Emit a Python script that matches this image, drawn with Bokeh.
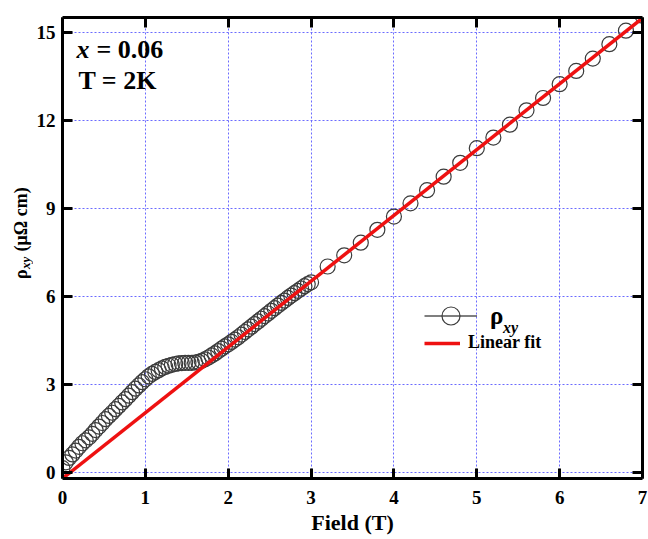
import math
from bokeh.plotting import figure
from bokeh.layouts import row
from bokeh.models import (Range1d, LinearAxis, FixedTicker, CustomJSTickFormatter,
                          Label, Legend, LegendItem, ColumnDataSource)
from bokeh.embed import file_html
from bokeh.resources import INLINE

# ---- data ----
field_low = [0.00, 0.04, 0.08, 0.12, 0.16, 0.20, 0.24, 0.28, 0.32, 0.36,
             0.40, 0.44, 0.48, 0.52, 0.56, 0.60, 0.64, 0.68, 0.72, 0.76,
             0.80, 0.84, 0.88, 0.92, 0.96, 1.00, 1.04, 1.08, 1.12, 1.16,
             1.20, 1.24, 1.28, 1.32, 1.36, 1.40, 1.44, 1.48, 1.52, 1.56,
             1.60, 1.64, 1.68, 1.72, 1.76, 1.80, 1.84, 1.88, 1.92, 1.96,
             2.00, 2.04, 2.08, 2.12, 2.16, 2.20, 2.24, 2.28, 2.32, 2.36,
             2.40, 2.44, 2.48, 2.52, 2.56, 2.60, 2.64, 2.68, 2.72, 2.76,
             2.80, 2.84, 2.88, 2.92, 2.96, 3.00]
rho_low = [0.15, 0.35, 0.50, 0.62, 0.75, 0.88, 1.00, 1.10, 1.20, 1.32,
           1.45, 1.57, 1.69, 1.82, 1.93, 2.04, 2.16, 2.27, 2.39, 2.50,
           2.62, 2.74, 2.86, 2.97, 3.08, 3.18, 3.28, 3.36, 3.43, 3.49,
           3.55, 3.60, 3.64, 3.67, 3.70, 3.72, 3.73, 3.74, 3.74, 3.74,
           3.75, 3.77, 3.81, 3.86, 3.92, 3.99, 4.06, 4.14, 4.22, 4.30,
           4.37, 4.45, 4.53, 4.61, 4.70, 4.79, 4.88, 4.97, 5.06, 5.15,
           5.24, 5.33, 5.42, 5.51, 5.60, 5.69, 5.78, 5.86, 5.95, 6.03,
           6.11, 6.19, 6.27, 6.35, 6.42, 6.48]
field_high = [3.2, 3.4, 3.6, 3.8, 4.0, 4.2, 4.4, 4.6, 4.8, 5.0,
              5.2, 5.4, 5.6, 5.8, 6.0, 6.2, 6.4, 6.6, 6.8, 7.0]
rho_high = [7.02, 7.40, 7.83, 8.27, 8.72, 9.17, 9.62, 10.08, 10.55, 11.05,
            11.41, 11.85, 12.34, 12.76, 13.23, 13.68, 14.10, 14.59, 15.05, 15.56]

fit_field = [0.0, 7.0]
fit_rho = [-0.2, 15.48]

x_ticks = [0, 1, 2, 3, 4, 5, 6, 7]
y_ticks = [0, 3, 6, 9, 12, 15]

FONT = "Liberation Serif"
GRID = "#6b6bff"
H = 539

field = field_low + field_high
rho = rho_low + rho_high

# ---------- narrow strip holding the rotated y-axis title ----------
LAB_W = 33
lab = figure(width=LAB_W, height=H, x_range=Range1d(0, LAB_W), y_range=Range1d(0, H),
             output_backend="svg", toolbar_location=None,
             x_axis_type=None, y_axis_type=None,
             min_border_left=0, min_border_right=0, min_border_top=0, min_border_bottom=0)
lab.outline_line_color = None
lab.grid.visible = False
lab.background_fill_color = "white"
lab.border_fill_color = "white"
ang = math.pi / 2
lab.add_layout(Label(x=20, y=H - 300, text="ρ", angle=ang, text_font=FONT,
                     text_font_style="bold", text_font_size="18px",
                     text_align="center", text_baseline="middle",
                     text_color="black"))
lab.add_layout(Label(x=25, y=H - 287, text="xy", angle=ang, text_font=FONT,
                     text_font_style="bold italic", text_font_size="13px",
                     text_align="center", text_baseline="middle",
                     text_color="black"))
lab.add_layout(Label(x=20, y=H - 236, text="(μΩ cm)", angle=ang, text_font=FONT,
                     text_font_style="bold", text_font_size="18px",
                     text_align="center", text_baseline="middle",
                     text_color="black"))

# ---------- main plot ----------
p = figure(width=648 - LAB_W, height=H, x_range=Range1d(0, 7), y_range=Range1d(-0.2, 15.5),
           output_backend="svg", toolbar_location=None,
           min_border_left=60 - LAB_W, min_border_right=6, min_border_top=17, min_border_bottom=61,
           x_axis_label="Field (T)")
p.outline_line_color = None
p.background_fill_color = "white"
p.border_fill_color = "white"

bottom_ax = p.below[0]
left_ax = p.left[0]
bottom_ax.ticker = FixedTicker(ticks=x_ticks)
left_ax.ticker = FixedTicker(ticks=y_ticks)

top_ax = LinearAxis(ticker=FixedTicker(ticks=x_ticks),
                    formatter=CustomJSTickFormatter(code="return ''"))
right_ax = LinearAxis(ticker=FixedTicker(ticks=y_ticks),
                      formatter=CustomJSTickFormatter(code="return ''"))
p.add_layout(top_ax, "above")
p.add_layout(right_ax, "right")

for ax in [bottom_ax, left_ax, top_ax, right_ax]:
    ax.axis_line_width = 3
    ax.axis_line_color = "black"
    ax.major_tick_in = 10
    ax.major_tick_out = 0
    ax.major_tick_line_width = 3
    ax.major_tick_line_color = "black"
    ax.minor_tick_line_color = None
    ax.major_label_text_font = FONT
    ax.major_label_text_font_style = "bold"
    ax.major_label_text_font_size = "19px"
    ax.major_label_text_color = "black"

bottom_ax.major_label_standoff = 12
left_ax.major_label_standoff = 7
bottom_ax.axis_label_standoff = 3
bottom_ax.axis_label_text_font = FONT
bottom_ax.axis_label_text_font_style = "bold"
bottom_ax.axis_label_text_font_size = "22px"
bottom_ax.axis_label_text_color = "black"
top_ax.major_label_text_font_size = "1px"
right_ax.major_label_text_font_size = "1px"
top_ax.major_label_standoff = 0
right_ax.major_label_standoff = 0

p.xgrid.ticker = FixedTicker(ticks=x_ticks)
p.ygrid.ticker = FixedTicker(ticks=y_ticks)
p.grid.grid_line_color = GRID
p.grid.grid_line_dash = "2 2"
p.grid.grid_line_width = 1

src = ColumnDataSource(data=dict(field=field, rho=rho))
circ = p.scatter("field", "rho", source=src, marker="circle", size=15,
                 fill_color=None, line_color="#3c3c3c", line_width=1.2)
dummy = p.line(x=[float("nan")], y=[float("nan")], line_color="#555555", line_width=1.5)
fit = p.line(fit_field, fit_rho, line_color="#ee1111", line_width=3.5)

leg1 = Legend(items=[LegendItem(label="ρ", renderers=[dummy, circ])],
              location=(362, 140), glyph_width=53, glyph_height=45,
              label_height=45, label_standoff=13, padding=0, margin=0, spacing=0,
              border_line_color=None, background_fill_alpha=0,
              label_text_font=FONT, label_text_font_style="bold",
              label_text_font_size="25px", label_text_color="black")
leg2 = Legend(items=[LegendItem(label="Linear fit", renderers=[fit])],
              location=(362, 125), glyph_width=36, glyph_height=20,
              label_height=20, label_standoff=8, padding=0, margin=0, spacing=0,
              border_line_color=None, background_fill_alpha=0,
              label_text_font=FONT, label_text_font_style="bold",
              label_text_font_size="18px", label_text_color="black")
p.add_layout(leg1)
p.add_layout(leg2)

def px2x(px):
    return (px - 60) / (582 / 7.0)

def py2y(py):
    return (472 - py) / (461 / 15.7)

# subscript of legend label
p.add_layout(Label(x=px2x(502), y=py2y(327), text="xy", text_font=FONT,
                   text_font_style="bold italic", text_font_size="16px",
                   text_color="black", text_baseline="alphabetic"))

# annotation text
p.add_layout(Label(x=px2x(74), y=py2y(49), text="x", text_font=FONT,
                   text_font_style="bold italic", text_font_size="26px",
                   text_color="black", text_baseline="alphabetic"))
p.add_layout(Label(x=px2x(94), y=py2y(49), text="= 0.06", text_font=FONT,
                   text_font_style="bold", text_font_size="26px",
                   text_color="black", text_baseline="alphabetic"))
p.add_layout(Label(x=px2x(76), y=py2y(80), text="T = 2K", text_font=FONT,
                   text_font_style="bold", text_font_size="26px",
                   text_color="black", text_baseline="alphabetic"))

open("out.html", "w").write(file_html(row(lab, p), INLINE))
